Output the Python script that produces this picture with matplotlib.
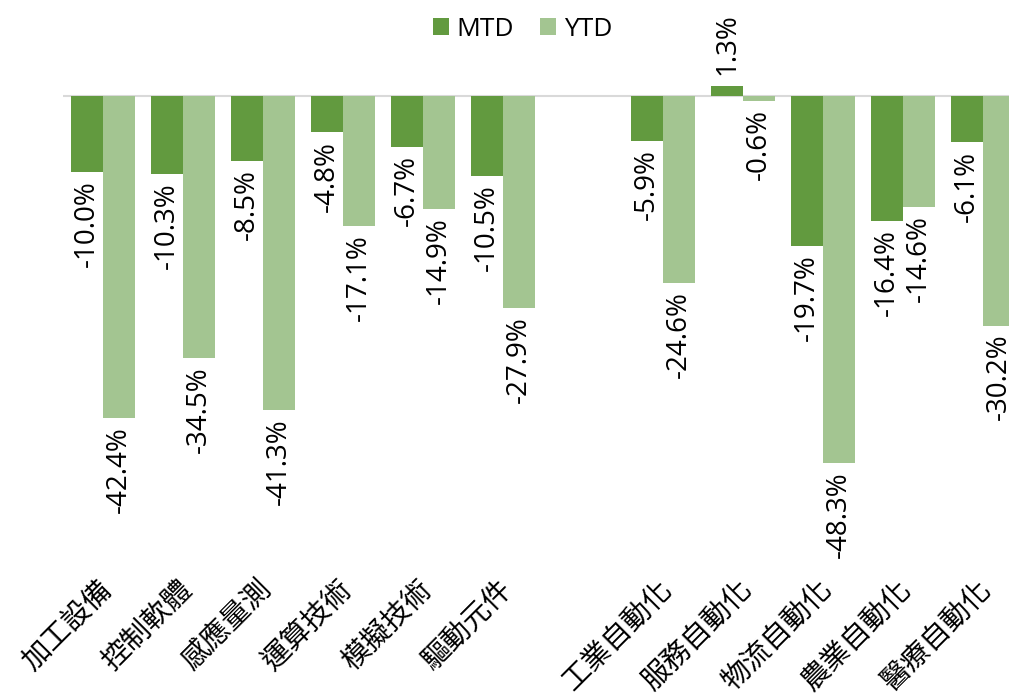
import numpy as np
import matplotlib
matplotlib.use("Agg")
from matplotlib import pyplot as plt
from matplotlib.transforms import ScaledTranslation

plt.rcParams["font.family"] = ["Open Sans", "Noto Sans CJK TC", "DejaVu Sans"]

categories = [
    "加工設備", "控制軟體", "感應量測", "運算技術", "模擬技術", "驅動元件",
    "",
    "工業自動化", "服務自動化", "物流自動化", "農業自動化", "醫療自動化",
]
mtd = [-10.0, -10.3, -8.5, -4.8, -6.7, -10.5, np.nan, -5.9, 1.3, -19.7, -16.4, -6.1]
ytd = [-42.4, -34.5, -41.3, -17.1, -14.9, -27.9, np.nan, -24.6, -0.6, -48.3, -14.6, -30.2]

dark = "#629a3f"
light = "#a3c591"


def main():
    fig = plt.figure(figsize=(10.09, 6.94), dpi=100)
    # axes deliberately runs past the right edge, as in the cropped original
    ax = fig.add_axes([63 / 1009, 1 - 571 / 694, 960 / 1009, (571 - 58) / 694])

    x = np.arange(len(categories))
    w = 0.4
    ax.bar(x - w / 2, mtd, w, color=dark, label="MTD", zorder=2)
    ax.bar(x + w / 2, ytd, w, color=light, label="YTD", zorder=2)
    ax.axhline(0, color="#d9d9d9", lw=1.5, zorder=1)

    ax.set_xlim(-0.5, len(categories) - 0.5)
    ax.set_ylim(-62.5, 5)

    # value labels, rotated, just past the end of each bar
    for xs, vals in ((x - w / 2, mtd), (x + w / 2, ytd)):
        for xi, v in zip(xs, vals):
            if np.isnan(v):
                continue
            if v < 0:
                ax.annotate(f"{v:.1f}%", (xi, v), xytext=(0, -6),
                            textcoords="offset points", rotation=90,
                            ha="center", va="top", fontsize=20)
            else:
                ax.annotate(f"{v:.1f}%", (xi, v), xytext=(0, 8),
                            textcoords="offset points", rotation=90,
                            ha="center", va="bottom", fontsize=20)

    ax.set_xticks(x)
    ax.set_xticklabels(categories, rotation=45, ha="right",
                       rotation_mode="anchor", fontsize=20.5,
                       family=["Noto Sans CJK TC", "DejaVu Sans"])
    ax.tick_params(axis="x", length=0, pad=6)
    shift = ScaledTranslation(-0.06, 0.05, fig.dpi_scale_trans)
    for lbl in ax.xaxis.get_majorticklabels():
        lbl.set_transform(lbl.get_transform() + shift)
    ax.set_yticks([])
    for s in ax.spines.values():
        s.set_visible(False)

    fig.legend(loc="upper center", bbox_to_anchor=(0.518, 1.01), ncol=2,
               frameon=False, fontsize=19, handlelength=0.6, handleheight=0.6,
               handletextpad=0.3, columnspacing=1.0)

    fig.savefig("out.png", dpi=100)


if __name__ == "__main__":
    main()
